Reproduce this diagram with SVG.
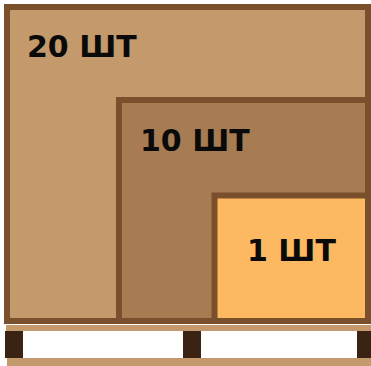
<svg xmlns="http://www.w3.org/2000/svg" width="371" height="366" viewBox="0 0 371 366">
<style>
.box{stroke:#7a4f2b;stroke-width:6}
.lbl{font-family:"DejaVu Sans",Verdana,sans-serif;font-weight:bold;font-size:30px;fill:#0a0a0a}
.board{fill:#c49a6c}
.block{fill:#3b2314}
</style>
<rect width="371" height="366" fill="#ffffff"/>
<g id="pallet">
<rect class="board" x="6" y="325" width="365" height="6"/>
<rect x="6" y="331" width="365" height="27" fill="#ffffff"/>
<rect class="block" x="5" y="331" width="18" height="27"/>
<rect class="block" x="183" y="331" width="18" height="27"/>
<rect class="block" x="357" y="331" width="14" height="27"/>
<rect class="board" x="7" y="358" width="364" height="8"/>
</g>
<g id="box20">
<rect class="box" x="7" y="7" width="361" height="314" fill="#c49a6c"/>
<text class="lbl" x="27" y="57">20 ШТ</text>
</g>
<g id="box10">
<rect class="box" x="119" y="100" width="249" height="221" fill="#a87c53"/>
<text class="lbl" x="140" y="151">10 ШТ</text>
</g>
<g id="box1">
<rect class="box" x="214.5" y="195.5" width="153.5" height="125.5" fill="#fdb862"/>
<text class="lbl" x="247" y="261">1 ШТ</text>
</g>
<g id="connectors"/>
</svg>
